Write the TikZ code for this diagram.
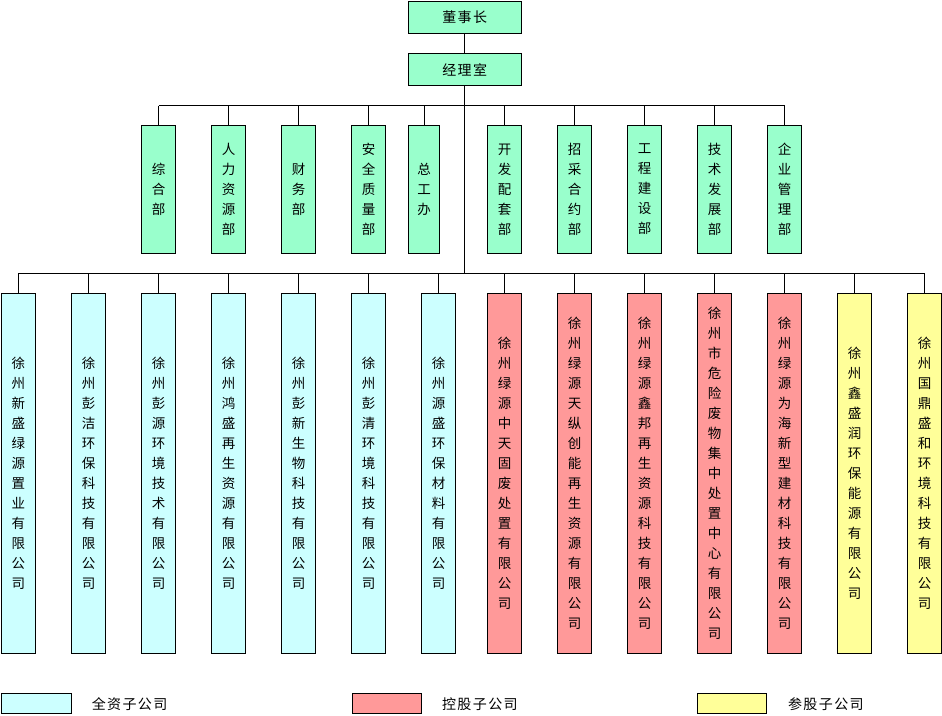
\documentclass[tikz,border=0pt]{standalone}
\usepackage{fontspec}
\newfontfamily\cjk{Noto Sans CJK SC}
\newfontfamily\cjkls[LetterSpace=10]{Noto Sans CJK SC}
\definecolor{deptgreen}{HTML}{99FFCC}
\definecolor{wholly}{HTML}{CCFFFF}
\definecolor{holding}{HTML}{FF9999}
\definecolor{share}{HTML}{FFFF99}
\begin{document}
\begin{tikzpicture}[x=1pt,y=-1pt,line width=0.9pt,
  topbox/.style={draw, fill=deptgreen, minimum width=112.7pt, minimum height=32pt, inner sep=0pt, font=\cjkls\fontsize{14}{16}\selectfont},
  dept/.style={draw, fill=deptgreen, minimum width=33.6pt, minimum height=127.3pt, inner sep=0pt, align=center, font=\cjk\fontsize{13.5}{20}\selectfont},
  sub/.style={draw, minimum width=33.6pt, minimum height=359.7pt, inner sep=0pt, align=center, font=\cjk\fontsize{13.5}{20}\selectfont},
  legbox/.style={draw, minimum width=69.5pt, minimum height=19.7pt, inner sep=0pt},
  legtext/.style={anchor=west, inner sep=0pt, font=\cjkls\fontsize{14}{16}\selectfont}]
\useasboundingbox (0,0) rectangle (942,715);

% top
\node[topbox] (chair) at (464.7,17.3) {董事长};
\node[topbox] (mgr) at (464.7,69.7) {经理室};
\coordinate (bus1) at (465,105.7);
\coordinate (bus2) at (465,273.3);

% departments
\node[dept] (d1) at (158.5,189.4) {综\\合\\部};
\node[dept] (d2) at (228.5,189.4) {人\\力\\资\\源\\部};
\node[dept] (d3) at (298.5,189.4) {财\\务\\部};
\node[dept] (d4) at (368.5,189.4) {安\\全\\质\\量\\部};
\node[dept, minimum width=30.6pt] (d5) at (424,189.4) {总\\工\\办};
\node[dept] (d6) at (504.5,189.4) {开\\发\\配\\套\\部};
\node[dept] (d7) at (574.5,189.4) {招\\采\\合\\约\\部};
\node[dept] (d8) at (644.5,189.4) {工\\程\\建\\设\\部};
\node[dept] (d9) at (714.5,189.4) {技\\术\\发\\展\\部};
\node[dept] (d10) at (784.5,189.4) {企\\业\\管\\理\\部};

% subsidiaries
\node[sub, fill=wholly] (s1) at (18.5,473.2) {徐\\州\\新\\盛\\绿\\源\\置\\业\\有\\限\\公\\司};
\node[sub, fill=wholly] (s2) at (88.5,473.2) {徐\\州\\彭\\洁\\环\\保\\科\\技\\有\\限\\公\\司};
\node[sub, fill=wholly] (s3) at (158.5,473.2) {徐\\州\\彭\\源\\环\\境\\技\\术\\有\\限\\公\\司};
\node[sub, fill=wholly] (s4) at (228.5,473.2) {徐\\州\\鸿\\盛\\再\\生\\资\\源\\有\\限\\公\\司};
\node[sub, fill=wholly] (s5) at (298.5,473.2) {徐\\州\\彭\\新\\生\\物\\科\\技\\有\\限\\公\\司};
\node[sub, fill=wholly] (s6) at (368.5,473.2) {徐\\州\\彭\\清\\环\\境\\科\\技\\有\\限\\公\\司};
\node[sub, fill=wholly] (s7) at (438.5,473.2) {徐\\州\\源\\盛\\环\\保\\材\\料\\有\\限\\公\\司};
\node[sub, fill=holding] (s8) at (504.5,473.2) {徐\\州\\绿\\源\\中\\天\\固\\废\\处\\置\\有\\限\\公\\司};
\node[sub, fill=holding] (s9) at (574.5,473.2) {徐\\州\\绿\\源\\天\\纵\\创\\能\\再\\生\\资\\源\\有\\限\\公\\司};
\node[sub, fill=holding] (s10) at (644.5,473.2) {徐\\州\\绿\\源\\鑫\\邦\\再\\生\\资\\源\\科\\技\\有\\限\\公\\司};
\node[sub, fill=holding] (s11) at (714.5,473.2) {徐\\州\\市\\危\\险\\废\\物\\集\\中\\处\\置\\中\\心\\有\\限\\公\\司};
\node[sub, fill=holding] (s12) at (784.5,473.2) {徐\\州\\绿\\源\\为\\海\\新\\型\\建\\材\\科\\技\\有\\限\\公\\司};
\node[sub, fill=share] (s13) at (854.5,473.2) {徐\\州\\鑫\\盛\\润\\环\\保\\能\\源\\有\\限\\公\\司};
\node[sub, fill=share] (s14) at (924.5,473.2) {徐\\州\\国\\鼎\\盛\\和\\环\\境\\科\\技\\有\\限\\公\\司};

% connectors
\draw (chair) -- (mgr);
\draw (mgr.south) -- (mgr.south |- bus2);
\draw (d1.north |- bus1) -- (d10.north |- bus1);
\foreach \i in {1,...,10} {\draw (d\i.north) -- (d\i.north |- bus1);}
\draw (s1.north |- bus2) -- (s14.north |- bus2);
\foreach \i in {1,...,14} {\draw (s\i.north) -- (s\i.north |- bus2);}

% legend
\node[legbox, fill=wholly] (l1) at (36.6,703.2) {};
\node[legtext] (t1) at (91.3,704) {全资子公司};
\node[legbox, fill=holding] (l2) at (386.9,703.2) {};
\node[legtext] (t2) at (441.6,704) {控股子公司};
\node[legbox, fill=share] (l3) at (732.1,703.2) {};
\node[legtext] (t3) at (787.6,704) {参股子公司};
\end{tikzpicture}
\end{document}
